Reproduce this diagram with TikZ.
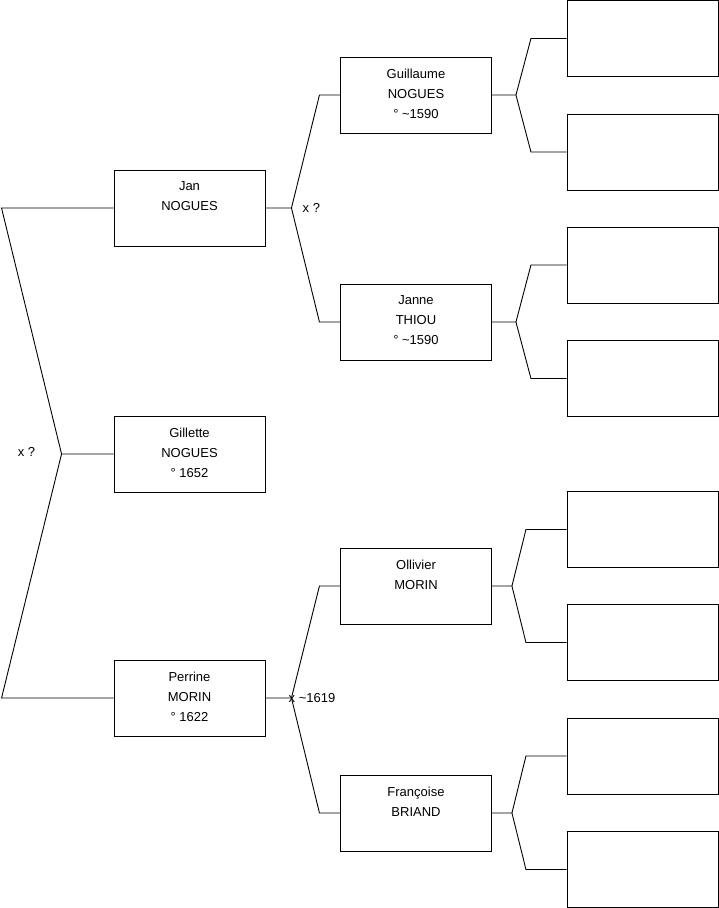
\documentclass[tikz,border=0pt]{standalone}
\usepackage{fontspec}
\setmainfont{Liberation Sans}
\usetikzlibrary{calc}
\tikzset{
  person/.style={draw, line width=0.9pt, rectangle, minimum width=151pt, minimum height=76pt,
    inner sep=0pt, font=\fontsize{13}{20}\selectfont,
    execute at begin node={\begin{minipage}[c][52pt][t]{145pt}\centering},
    execute at end node={\end{minipage}}},
  link/.style={line width=0.9pt},
  wed/.style={anchor=west, inner sep=1pt, font=\fontsize{13}{15}\selectfont}
}
\begin{document}
\begin{tikzpicture}[x=1pt,y=-1pt]
\useasboundingbox (0,0) rectangle (719,908);
% generation 1
\node[person] (jan) at (189.5,208) {Jan\\NOGUES};
\node[person] (gil) at (189.5,454) {Gillette\\NOGUES\\° 1652};
\node[person] (perrine) at (189.5,698) {Perrine\\MORIN\\° 1622};
% generation 2
\node[person] (guil) at (416,95) {Guillaume\\NOGUES\\° \textasciitilde1590};
\node[person] (janne) at (416,322) {Janne\\THIOU\\° \textasciitilde1590};
\node[person] (olliv) at (416,586) {Ollivier\\MORIN};
\node[person] (franc) at (416,813) {Françoise\\BRIAND};
% generation 3 (empty)
\foreach \i/\y in {1/38.5,2/152,3/265,4/378.5,5/529.5,6/642.5,7/756,8/869.5}
  \node[person] (g\i) at (642.5,\y) {};
% forks to the parents
\foreach \kid/\dad/\mom/\dx/\sx in {jan/guil/janne/26/28, perrine/olliv/franc/26/28,
    guil/g1/g2/24/15, janne/g3/g4/24/15, olliv/g5/g6/20/14, franc/g7/g8/20/14}{
  \coordinate (w\kid) at ([xshift=\dx pt]\kid.east);
  \draw[link] (\kid.east) -- (w\kid) -- ($(w\kid |- \dad.west)+(\sx,0)$) -- (\dad.west);
  \draw[link] (w\kid) -- ($(w\kid |- \mom.west)+(\sx,0)$) -- (\mom.west);
}
\coordinate (wgil) at ([xshift=-52pt]gil.west);
\draw[link] (gil.west) -- (wgil) -- ([xshift=-112pt]jan.west) -- (jan.west);
\draw[link] (wgil) -- ([xshift=-112pt]perrine.west) -- (perrine.west);
% marriages
\node[wed] (mgil) at ([xshift=-45pt,yshift=2pt]wgil) {x ?};
\node[wed] (mjan) at ([xshift=10pt]wjan) {x ?};
\node[wed] (mperrine) at ([xshift=-4pt]wperrine) {x \textasciitilde1619};
\end{tikzpicture}
\end{document}
